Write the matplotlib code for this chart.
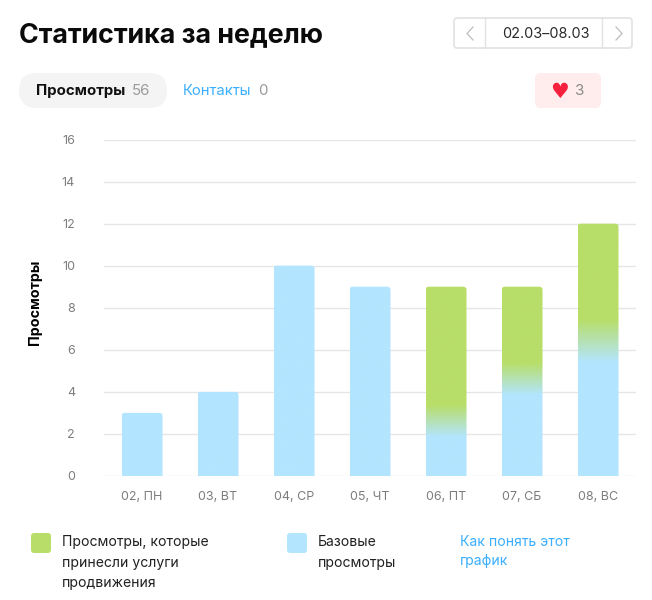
import numpy as np
import matplotlib
matplotlib.use('Agg')
import matplotlib.pyplot as plt
from matplotlib.colors import LinearSegmentedColormap
from matplotlib.patches import FancyBboxPatch

plt.rcParams['font.family'] = ['Inter', 'DejaVu Sans']

# Datos
dias = ['02, ПН', '03, ВТ', '04, СР', '05, ЧТ', '06, ПТ', '07, СБ', '08, ВС']
base = [3, 4, 10, 9, 2.6, 4.6, 6.4]
promo = [0, 0, 0, 0, 6.4, 4.4, 5.6]
y_ticks = [0, 2, 4, 6, 8, 10, 12, 14, 16]

AZUL = '#b3e5ff'
VERDE = '#b8de69'
W, H = 652, 600

fig = plt.figure(figsize=(W / 100, H / 100), dpi=100)

# Capa de interfaz en pixeles
ui = fig.add_axes([0, 0, 1, 1])
ui.set_xlim(0, W)
ui.set_ylim(H, 0)
ui.axis('off')


def caja(x, y, w, h, r, fc, ec='none', lw=0):
    ui.add_patch(FancyBboxPatch((x + r, y + r), w - 2 * r, h - 2 * r,
                                boxstyle=f'round,pad={r},rounding_size={r}',
                                fc=fc, ec=ec, lw=lw))


ui.text(19, 35, 'Статистика за неделю', fontsize=19.3, fontweight='bold',
        color='#0a0a0a', va='center')

# Selector de fechas
caja(454, 18, 178, 30, 3, 'white', '#e2e2e2', 1.2)
ui.plot([485, 485], [18, 48], color='#e2e2e2', lw=1)
ui.plot([602, 602], [18, 48], color='#e2e2e2', lw=1)
ui.plot([473, 467, 473], [27, 33.5, 40], color='#bdbdbd', lw=0.9)
ui.plot([616, 622, 616], [27, 33.5, 40], color='#bdbdbd', lw=0.9)
ui.text(545.5, 34.5, '02.03–08.03', fontsize=10.4, color='#2a2a2a', ha='center', va='center')

# Pestanas
caja(19, 73, 148, 35, 17.5, '#f4f4f4')
ui.text(36, 91, 'Просмотры', fontsize=10.8, fontweight='bold', color='#111111', va='center')
ui.text(132, 91, '56', fontsize=10.8, color='#9a9a9a', va='center')
ui.text(183, 91, 'Контакты', fontsize=10.7, color='#3aaeff', va='center')
ui.text(258, 91, '0', fontsize=10.8, color='#9a9a9a', va='center')
caja(535, 73, 66, 35, 6, '#ffecec')
ui.text(559, 92.5, '♥', fontsize=15, color='#f5213f', ha='center', va='center', family='DejaVu Sans')
ui.text(580, 91, '3', fontsize=10.8, color='#8a8a8a', ha='center', va='center')

# Leyenda
ui.add_patch(FancyBboxPatch((33, 535), 16, 16, boxstyle='round,pad=2,rounding_size=3', fc=VERDE, ec='none'))
ui.add_patch(FancyBboxPatch((289, 535), 16, 16, boxstyle='round,pad=2,rounding_size=3', fc=AZUL, ec='none'))
for y, s in zip([542, 562.5, 583.5], ['Просмотры, которые', 'принесли услуги', 'продвижения']):
    ui.text(62, y, s, fontsize=10.1, color='#222222', va='center')
for y, s in zip([542, 562.5], ['Базовые', 'просмотры']):
    ui.text(318, y, s, fontsize=10.1, color='#222222', va='center')
for y, s in zip([542, 560.5], ['Как понять этот', 'график']):
    ui.text(460, y, s, fontsize=10.1, color='#3aaeff', va='center')

# Grafico
ax = fig.add_axes([104 / W, 1 - 476 / H, 532 / W, (476 - 139.5) / H])
ax.patch.set_alpha(0)
for s in ax.spines.values():
    s.set_visible(False)
ax.set_yticks(y_ticks)
ax.set_xticks(range(len(dias)), dias)
ax.tick_params(length=0, labelsize=9, labelcolor='#7d7d7d')
ax.tick_params(axis='x', pad=11)
ax.tick_params(axis='y', pad=28)
for lab in ax.get_yticklabels():
    lab.set_x((75 - 104 + 28 * 100 / 72) / 532)
ax.grid(axis='y', color='#e6e6e6', lw=1)
ax.set_axisbelow(True)
ax.set_ylabel('Просмотры', fontsize=10.3, fontweight='bold', color='black')
ax.yaxis.set_label_coords((42 - 104) / 532, 0.515)

ancho = 41 / 76
por_px_x = 7 / 532
por_px_y = 16 / 336.5
cmap = LinearSegmentedColormap.from_list('bv', [AZUL, VERDE])

barras = ax.bar(range(len(dias)), base, width=ancho, color='none')
for i, rect in enumerate(barras):
    total = base[i] + promo[i]
    x0 = rect.get_x()
    yy = np.linspace(total, 0, 800)
    banda = 0.085 * total  # media altura del degradado
    if promo[i] > 0:
        grad = np.clip((yy - (base[i] - banda)) / (2 * banda), 0, 1)
    else:
        grad = np.zeros_like(yy)
    im = ax.imshow(grad[:, None], cmap=cmap, vmin=0, vmax=1, aspect='auto',
                   extent=(x0, x0 + ancho, 0, total), zorder=3, interpolation='bilinear')
    r_x = 3 * por_px_x
    clip = FancyBboxPatch((x0 + r_x, -1), ancho - 2 * r_x, total + 1 - 3 * por_px_y,
                          boxstyle=f'round,pad={r_x},rounding_size={r_x}',
                          mutation_aspect=por_px_y / por_px_x, transform=ax.transData,
                          fc='none', ec='none')
    ax.add_patch(clip)
    im.set_clip_path(clip)
ax.set_xlim(-0.5, 6.5)
ax.set_ylim(0, 16)

fig.savefig('out.png', dpi=100)
